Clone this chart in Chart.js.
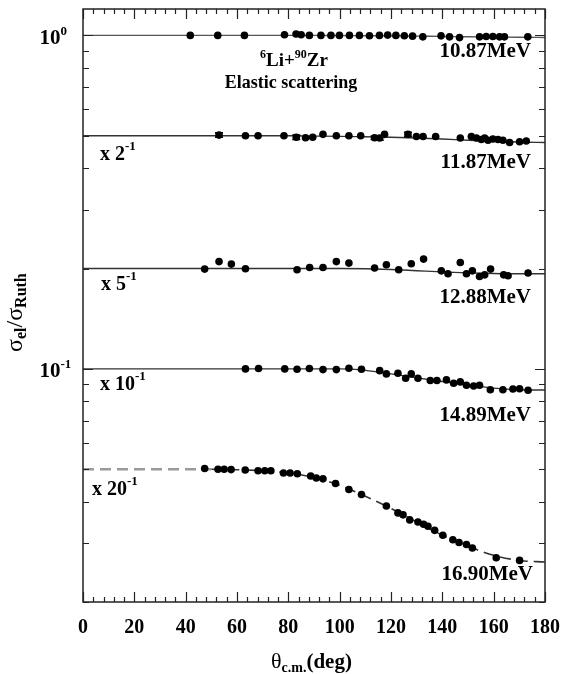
<!DOCTYPE html>
<html>
<head>
<meta charset="utf-8">
<title>6Li + 90Zr elastic scattering</title>
<script src="https://cdn.jsdelivr.net/npm/chart.js@4.4.0/dist/chart.umd.min.js"></script>
<style>
  html, body { margin: 0; padding: 0; background: #fff; }
  #wrap { width: 561px; height: 674px; }
</style>
</head>
<body>
<div id="wrap"><canvas id="xs" width="561" height="674"></canvas></div>
<script>
// sigma_el / sigma_Ruth vs theta_cm, one row per beam energy, rows offset by 1/N

const energies = ['10.87MeV', '11.87MeV', '12.88MeV', '14.89MeV', '16.90MeV'];
const divisors = [1, 2, 5, 10, 20];

// angles for the fitted curves
const fitAngles = [0, 10, 20, 30, 40, 50, 60, 70, 80, 90, 100, 110, 120, 130, 140, 150, 160, 170, 180];

// 10.87 MeV
const ang1087 = [41.8, 52.5, 62.9, 78.5, 83.0, 85.0, 88.2, 92.7, 96.6, 99.9, 103.8, 107.7, 111.6, 115.5, 118.7,
                 121.9, 125.2, 128.4, 132.4, 139.5, 142.8, 146.7, 154.5, 157.1, 159.7, 162.3, 164.2, 173.3];
const rat1087 = [1.0, 1.0, 1.0, 1.005, 1.01, 1.005, 1.0, 1.0, 1.0, 1.0, 1.0, 1.0, 0.998, 1.0, 1.002,
                 1.0, 0.998, 0.995, 0.99, 0.997, 0.99, 0.985, 0.99, 0.992, 0.992, 0.99, 0.99, 0.99];
const fit1087 = [1, 1, 1, 1, 1, 1, 1, 1, 1, 1, 0.999, 0.998, 0.997, 0.995, 0.993, 0.991, 0.989, 0.987, 0.986];

// 11.87 MeV
const ang1187 = [53.0, 63.3, 68.2, 78.3, 83.1, 86.7, 89.5, 93.5, 98.7, 103.6, 108.2, 113.6, 115.6, 117.5, 126.6,
                 129.9, 132.5, 137.4, 147.0, 151.3, 153.3, 155.2, 156.5, 157.8, 159.7, 161.7, 163.6, 166.2, 170.1, 172.7];
const rat1187 = [1.005, 1.0, 1.0, 1.0, 0.99, 0.987, 0.99, 1.01, 1.0, 1.0, 1.0, 0.987, 0.985, 1.01, 1.01,
                 0.995, 0.995, 0.995, 0.985, 0.995, 0.985, 0.975, 0.985, 0.97, 0.978, 0.975, 0.97, 0.955, 0.96, 0.965];
const err1187 = [0.015, 0, 0, 0, 0.015, 0, 0, 0, 0, 0, 0, 0.012, 0.015, 0, 0.015,
                 0, 0, 0, 0, 0, 0, 0, 0, 0, 0, 0, 0, 0, 0, 0];
const fit1187 = [1, 1, 1, 1, 1, 1, 1, 1, 1, 0.998, 0.996, 0.993, 0.99, 0.985, 0.978, 0.97, 0.963, 0.958, 0.955];

// 12.88 MeV
const ang1288 = [47.4, 53.0, 57.8, 63.3, 83.4, 88.3, 93.5, 98.7, 103.6, 113.6, 118.2, 123.0, 127.9, 132.7,
                 139.6, 142.2, 147.0, 149.4, 151.7, 154.5, 156.5, 158.8, 163.9, 165.6, 173.4];
const rat1288 = [0.996, 1.049, 1.031, 0.998, 0.991, 1.007, 1.007, 1.049, 1.038, 1.003, 1.026, 0.991, 1.033, 1.067,
                 0.984, 0.964, 1.042, 0.964, 0.984, 0.946, 0.957, 0.996, 0.957, 0.951, 0.969];
const fit1288 = [1, 1, 1, 1, 1, 1, 1, 1, 1, 1, 1, 0.998, 0.993, 0.985, 0.977, 0.97, 0.966, 0.964, 0.964];

// 14.89 MeV
const ang1489 = [63.3, 68.4, 78.6, 83.4, 88.2, 93.5, 98.7, 103.6, 108.5, 115.6, 118.2, 122.7, 125.7, 127.9,
                 130.5, 135.3, 137.9, 141.6, 144.4, 147.0, 149.4, 152.2, 154.5, 158.7, 163.6, 167.5, 170.1, 173.4];
const rat1489 = [1.0, 1.003, 1.0, 0.998, 1.003, 0.995, 0.995, 1.005, 0.998, 0.988, 0.966, 0.97, 0.937, 0.966,
                 0.937, 0.923, 0.923, 0.927, 0.906, 0.914, 0.893, 0.889, 0.893, 0.866, 0.866, 0.87, 0.872, 0.863];
const fit1489 = [1, 1, 1, 1, 1, 1, 1, 1, 1, 1, 1, 0.99, 0.966, 0.94, 0.917, 0.895, 0.876, 0.866, 0.864];

// 16.90 MeV
const ang1690 = [47.4, 52.6, 55.0, 57.7, 63.2, 68.2, 70.8, 73.2, 78.1, 80.7, 83.5, 88.7, 90.9, 93.5, 98.4, 103.6,
                 108.5, 118.2, 122.7, 124.7, 127.3, 130.5, 132.7, 134.4, 137.0, 140.2, 144.1, 146.5, 149.4, 151.7,
                 161.0, 170.1];
const rat1690 = [1.005, 1.0, 1.0, 0.998, 0.995, 0.99, 0.99, 0.99, 0.975, 0.975, 0.97, 0.955, 0.942, 0.936, 0.907, 0.87,
                 0.84, 0.776, 0.74, 0.73, 0.705, 0.695, 0.684, 0.675, 0.656, 0.634, 0.615, 0.603, 0.595, 0.581,
                 0.543, 0.533];
const fit1690 = [1, 1, 1, 1, 1, 1, 0.997, 0.99, 0.975, 0.945, 0.895, 0.83, 0.763, 0.695, 0.635, 0.588, 0.552, 0.533, 0.527];

// axis ticks
const xTickVals = [0, 20, 40, 60, 80, 100, 120, 140, 160, 180];
const xTickLabels = ['0', '20', '40', '60', '80', '100', '120', '140', '160', '180'];
const yTickVals = [0.02, 0.03, 0.04, 0.05, 0.06, 0.07, 0.08, 0.09, 0.1,
                   0.2, 0.3, 0.4, 0.5, 0.6, 0.7, 0.8, 0.9, 1];
const yLabelVals = [1, 0.1];
const yLabelExps = ['0', '-1'];

const SERIF = '"Liberation Serif", "Times New Roman", serif';
const B = s => `bold ${s}px ${SERIF}`;
const R = s => `${s}px ${SERIF}`;

// where the text goes (baseline positions in canvas px)
const energyLabelPos = [[531, 57], [531, 168], [531, 303], [531, 421], [533, 580]];
const divisorLabelPos = [null, [100, 160], [101, 290], [100, 390], [92, 495]];

const rows = [
  { ang: ang1087, rat: rat1087, fit: fit1087 },
  { ang: ang1187, rat: rat1187, fit: fit1187, err: err1187 },
  { ang: ang1288, rat: rat1288, fit: fit1288 },
  { ang: ang1489, rat: rat1489, fit: fit1489 },
  { ang: ang1690, rat: rat1690, fit: fit1690 },
];

const datasets = [];
rows.forEach((r, i) => {
  const k = 1 / divisors[i];
  const dashed = i === 4;
  datasets.push({
    type: 'line',
    label: energies[i] + ' fit',
    data: fitAngles.map((a, j) => ({ x: a, y: r.fit[j] * k })),
    borderColor: i === 0 ? '#555' : '#333',
    borderWidth: dashed ? 1.6 : 1.4,
    borderDash: dashed ? [11, 6] : [],
    pointRadius: 0,
    cubicInterpolationMode: 'monotone',
    segment: dashed ? {
      borderColor: c => (c.p1.parsed.x <= 50 ? '#9a9a9a' : '#333'),
      borderWidth: c => (c.p1.parsed.x <= 50 ? 2.4 : 1.6),
    } : undefined,
    order: 2,
  });
  datasets.push({
    type: 'scatter',
    label: energies[i],
    data: r.ang.map((a, j) => ({ x: a, y: r.rat[j] * k })),
    errs: r.err ? r.err.map((e, j) => e * r.rat[j] * k) : null,
    pointRadius: 3.8,
    pointStyle: 'circle',
    backgroundColor: '#000',
    borderWidth: 0,
    order: 1,
  });
});

function runs(ctx, parts, x, y, align) {
  let w = 0;
  parts.forEach(p => { ctx.font = p[1]; w += ctx.measureText(p[0]).width; });
  let cx = align === 'center' ? x - w / 2 : align === 'right' ? x - w : x;
  ctx.textAlign = 'left';
  ctx.textBaseline = 'alphabetic';
  parts.forEach(p => {
    ctx.font = p[1];
    ctx.fillText(p[0], cx, y + (p[2] || 0));
    cx += ctx.measureText(p[0]).width;
  });
}

const errorBars = {
  id: 'errorBars',
  afterDatasetsDraw(chart) {
    const ctx = chart.ctx;
    const ys = chart.scales.y;
    ctx.save();
    ctx.strokeStyle = '#000';
    ctx.lineWidth = 1.6;
    chart.data.datasets.forEach((ds, di) => {
      if (!ds.errs) return;
      const meta = chart.getDatasetMeta(di);
      ds.data.forEach((p, j) => {
        const e = ds.errs[j];
        if (!e) return;
        const px = meta.data[j].x;
        const y1 = ys.getPixelForValue(p.y + e);
        const y2 = ys.getPixelForValue(p.y - e);
        ctx.beginPath();
        ctx.moveTo(px, y1); ctx.lineTo(px, y2);
        ctx.moveTo(px - 4, y1); ctx.lineTo(px + 4, y1);
        ctx.moveTo(px - 4, y2); ctx.lineTo(px + 4, y2);
        ctx.stroke();
      });
    });
    ctx.restore();
  },
};

const frameAndText = {
  id: 'frameAndText',
  afterDraw(chart) {
    const ctx = chart.ctx;
    const ca = chart.chartArea;
    const xs = chart.scales.x;
    const ys = chart.scales.y;
    ctx.save();

    // frame
    ctx.strokeStyle = '#222';
    ctx.lineWidth = 1.5;
    ctx.strokeRect(ca.left, ca.top, ca.right - ca.left, ca.bottom - ca.top);

    // inward ticks, minor every 4 deg
    ctx.lineWidth = 1.2;
    ctx.beginPath();
    for (let v = 0; v <= 180; v += 4) {
      const px = Math.round(xs.getPixelForValue(v)) + 0.5;
      const len = v % 20 === 0 ? 10 : 5;
      ctx.moveTo(px, ca.bottom); ctx.lineTo(px, ca.bottom - len);
      ctx.moveTo(px, ca.top); ctx.lineTo(px, ca.top + len);
    }
    yTickVals.forEach(v => {
      const py = Math.round(ys.getPixelForValue(v)) + 0.5;
      const len = (v === 1 || v === 0.1) ? 10 : 6;
      ctx.moveTo(ca.left, py); ctx.lineTo(ca.left + len, py);
      ctx.moveTo(ca.right, py); ctx.lineTo(ca.right - len, py);
    });
    ctx.stroke();

    ctx.fillStyle = '#000';

    // tick labels
    xTickVals.forEach((v, i) => {
      runs(ctx, [[xTickLabels[i], B(20)]], xs.getPixelForValue(v), 633, 'center');
    });
    yLabelVals.forEach((v, i) => {
      const py = ys.getPixelForValue(v);
      runs(ctx, [['10', B(21)], [yLabelExps[i], B(13), -9]], 39.5, py + 8.5, 'left');
    });

    // axis titles
    runs(ctx, [['θ', R(22)], ['c.m.', B(14), 4], ['(deg)', B(21)]], 271, 668, 'left');
    ctx.save();
    ctx.translate(22, 352);
    ctx.rotate(-Math.PI / 2);
    runs(ctx, [['σ', R(24)], ['el', B(16), 4], ['/', R(24)], ['σ', R(24)], ['Ruth', B(16), 4]], 0, 0, 'left');
    ctx.restore();

    // reaction label
    runs(ctx, [['6', B(12), -8], ['Li+', B(19)], ['90', B(12), -8], ['Zr', B(19)]], 294, 66, 'center');
    runs(ctx, [['Elastic scattering', B(18)]], 291, 88, 'center');

    // energy and normalisation labels
    energies.forEach((e, i) => {
      const p = energyLabelPos[i];
      runs(ctx, [[e, B(21)]], p[0], p[1], 'right');
      const q = divisorLabelPos[i];
      if (q) runs(ctx, [['x ' + divisors[i], B(20)], ['-1', B(13), -10]], q[0], q[1], 'left');
    });

    ctx.restore();
  },
};

new Chart(document.getElementById('xs').getContext('2d'), {
  type: 'scatter',
  data: { datasets },
  options: {
    responsive: false,
    animation: false,
    layout: { padding: { left: 83, right: 16, top: 9, bottom: 72 } },
    plugins: { legend: { display: false }, tooltip: { enabled: false } },
    scales: {
      x: { type: 'linear', min: 0, max: 180, display: false },
      y: { type: 'logarithmic', min: 0.02, max: 1.2, display: false },
    },
  },
  plugins: [errorBars, frameAndText],
});
</script>
</body>
</html>
